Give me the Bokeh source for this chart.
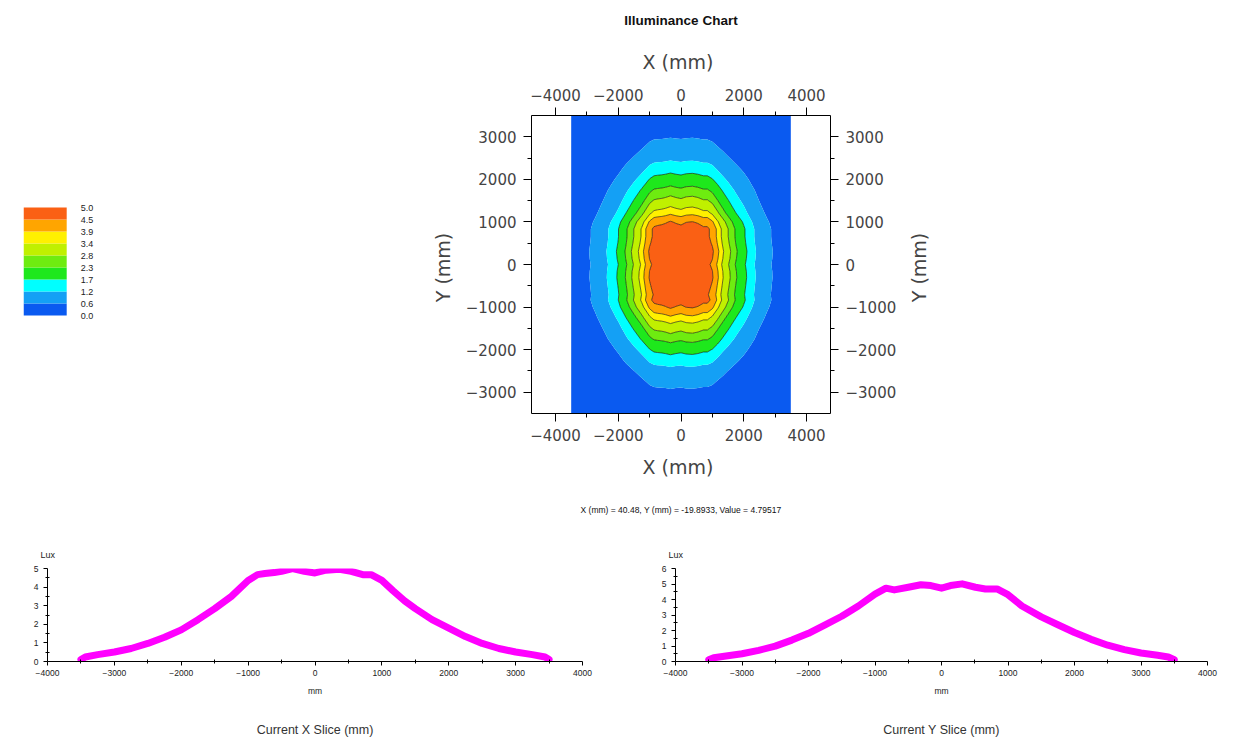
import math
import numpy as np
from bokeh.plotting import figure
from bokeh.layouts import column, row
from bokeh.models import Range1d, FixedTicker, LinearAxis, Title
from bokeh.embed import file_html
from bokeh.resources import INLINE
from bokeh.core.properties import value

# ---------------- data ----------------
# Current X slice (illuminance along X, mm -> lux)
slice_x_mm = [-3500, -3435, -3250, -3000, -2750, -2500, -2250, -2000, -1750, -1500,
              -1250, -1000, -860, -750, -610, -500, -335, -160, 0,
              165, 365, 540, 715, 840, 1000, 1165, 1340, 1500,
              1750, 2000, 2250, 2500, 2750, 3000, 3250, 3440, 3500]
slice_x_lux = [0.11, 0.24, 0.37, 0.51, 0.70, 0.97, 1.30, 1.70, 2.25, 2.84,
               3.50, 4.36, 4.67, 4.73, 4.78, 4.85, 5.00, 4.85, 4.76,
               4.91, 4.96, 4.85, 4.67, 4.67, 4.36, 3.81, 3.26, 2.84,
               2.25, 1.79, 1.34, 0.97, 0.70, 0.51, 0.37, 0.24, 0.11]

# Current Y slice (illuminance along Y, mm -> lux)
slice_y_mm = [-3500, -3425, -3240, -3000, -2750, -2500, -2250, -2000, -1750, -1500,
              -1250, -1000, -835, -710, -500, -310, -160, 0,
              135, 310, 510, 660, 835, 1000, 1210, 1500,
              1750, 2000, 2250, 2500, 2750, 3000, 3250, 3410, 3500]
slice_y_lux = [0.11, 0.24, 0.35, 0.50, 0.72, 0.99, 1.38, 1.82, 2.37, 2.92,
               3.58, 4.35, 4.73, 4.62, 4.79, 4.95, 4.90, 4.73,
               4.90, 5.01, 4.79, 4.68, 4.68, 4.31, 3.58, 2.88,
               2.37, 1.87, 1.43, 1.05, 0.77, 0.55, 0.40, 0.29, 0.11]

# contour levels / legend
levels = [0.0, 0.6, 1.2, 1.7, 2.3, 2.8, 3.4, 3.9, 4.5, 5.0]
level_labels = ["0.0", "0.6", "1.2", "1.7", "2.3", "2.8", "3.4", "3.9", "4.5", "5.0"]
band_colors = ["#0a5af0", "#14a0f5", "#00ffff", "#1ee81c", "#6eec10",
               "#c0f000", "#fff000", "#ffa500", "#fa6014"]
line_alphas = [0, 0, 0, 0.8, 0.8, 0.8, 0.8, 0.8, 0.8, 0]

title_text = "Illuminance Chart"
status_text = "X (mm) = 40.48, Y (mm) = -19.8933, Value = 4.79517"
x_label = "X  (mm)"
y_label = "Y  (mm)"

x_major = [-4000, -2000, 0, 2000, 4000]
x_minor = [-3000, -1000, 1000, 3000]
y_major = [-3000, -2000, -1000, 0, 1000, 2000, 3000]
y_minor = [-2500, -1500, -500, 500, 1500, 2500]

slice_ticks = [-4000, -3000, -2000, -1000, 0, 1000, 2000, 3000, 4000]
slice_minor = [-3500, -2500, -1500, -500, 500, 1500, 2500, 3500]

TXT = "#444444"

# ---------------- field from the two slices ----------------
fx = np.array(slice_x_lux)
fy = np.array(slice_y_lux)
fy0 = slice_y_lux[slice_y_mm.index(0)]
Z = np.outer(fy, fx) / fy0
XX, YY = np.meshgrid(np.array(slice_x_mm, dtype=float), np.array(slice_y_mm, dtype=float))
fill_levels = levels[:-1] + [max(levels[-1], float(Z.max()) + 0.01)]


def minus(v):
    return ("\u2212" + str(abs(v))) if v < 0 else str(v)


def caption_axis(text, standoff, size, color, style="normal"):
    """An axis with no ticks, used only to place a caption line."""
    ax = LinearAxis(ticker=FixedTicker(ticks=[], minor_ticks=[]), axis_label=text)
    ax.axis_line_color = None
    ax.major_tick_line_color = None
    ax.minor_tick_line_color = None
    ax.major_tick_out = 0
    ax.major_tick_in = 0
    ax.minor_tick_out = 0
    ax.minor_tick_in = 0
    ax.major_label_standoff = 0
    ax.axis_label_standoff = standoff
    ax.axis_label_text_font = "Liberation Sans"
    ax.axis_label_text_font_size = size
    ax.axis_label_text_font_style = style
    ax.axis_label_text_color = color
    return ax


TOP_B, FRAME_H, BOT_B = 115, 298, 120
ROW1_H = TOP_B + FRAME_H + BOT_B

# ---------------- legend figure ----------------
band_px = 12.0
top_val = 9 + (207 - TOP_B) / band_px
bot_val = top_val - FRAME_H / band_px
pl = figure(width=428, height=ROW1_H, x_range=Range1d(0, 2.5), y_range=Range1d(bot_val, top_val),
            output_backend="svg", toolbar_location=None,
            x_axis_location=None, y_axis_location=None,
            min_border_left=23, min_border_right=428 - 23 - 108,
            min_border_top=TOP_B, min_border_bottom=BOT_B)
pl.grid.visible = False
pl.outline_line_color = None
idx = list(range(len(levels)))
pl.quad(left=0, right=1, bottom=idx[:-1], top=idx[1:], fill_color=band_colors, line_color=None)
pl.text(x=[1] * len(levels), y=idx, text=level_labels, x_offset=14,
        text_baseline="middle", text_align="left", text_font_size="9px",
        text_font=value("Liberation Sans"), text_color="#222222")

# ---------------- contour figure ----------------
pc = figure(width=472, height=ROW1_H, x_range=Range1d(-4765, 4765), y_range=Range1d(-3500, 3500),
            output_backend="svg", toolbar_location=None,
            x_axis_location=None, y_axis_location=None,
            min_border_left=103, min_border_right=70,
            min_border_top=TOP_B, min_border_bottom=BOT_B)
pc.grid.visible = False
pc.outline_line_color = None

pc.contour(x=XX, y=YY, z=Z, levels=fill_levels, fill_color=band_colors,
           line_color="black", line_alpha=line_alphas, line_width=0.7)


def style_axis(ax):
    ax.axis_line_color = "black"
    ax.major_tick_line_color = "black"
    ax.minor_tick_line_color = "black"
    ax.major_tick_out = 8
    ax.major_tick_in = 0
    ax.minor_tick_out = 4
    ax.minor_tick_in = 0
    ax.major_label_text_font = "DejaVu Sans"
    ax.major_label_text_font_size = "15px"
    ax.major_label_text_color = TXT
    ax.major_label_standoff = 7
    ax.axis_label_text_font = "DejaVu Sans"
    ax.axis_label_text_font_size = "19px"
    ax.axis_label_text_font_style = "normal"
    ax.axis_label_text_color = TXT
    ax.axis_label_standoff = 12


for loc in ["below", "above"]:
    ax = LinearAxis(ticker=FixedTicker(ticks=x_major, minor_ticks=x_minor),
                    major_label_overrides={v: minus(v) for v in x_major},
                    axis_label=x_label)
    style_axis(ax)
    if loc == "above":
        ax.axis_label_standoff = 13
    pc.add_layout(ax, loc)

for loc in ["left", "right"]:
    ax = LinearAxis(ticker=FixedTicker(ticks=y_major, minor_ticks=y_minor),
                    major_label_overrides={v: minus(v) for v in y_major},
                    axis_label=y_label if loc == "left" else None)
    style_axis(ax)
    ax.axis_label_standoff = 9
    pc.add_layout(ax, loc)

# chart title (outermost line above) and status line (outermost line below)
pc.add_layout(caption_axis(title_text, 20, "13.5px", "#111111", "bold"), "above")
pc.add_layout(caption_axis(status_text, 24, "8.5px", "#111111"), "below")

# ---------------- right-hand Y label (reads bottom-to-top) ----------------
pr = figure(width=36, height=ROW1_H, x_range=Range1d(-1, 1), y_range=Range1d(-1, 1),
            output_backend="svg", toolbar_location=None,
            x_axis_location=None, y_axis_location=None,
            min_border_left=0, min_border_right=0,
            min_border_top=TOP_B, min_border_bottom=BOT_B)
pr.grid.visible = False
pr.outline_line_color = None
pr.text(x=[0], y=[0], text=[y_label], angle=math.pi / 2, text_align="center",
        text_baseline="middle", text_font=value("DejaVu Sans"), text_font_size="19px",
        text_color=TXT)


# ---------------- slice figures ----------------
def slice_fig(width, bl, br, ymax, xs, ys, caption):
    p = figure(width=width, height=206, x_range=Range1d(-4000, 4000), y_range=Range1d(0, ymax),
               output_backend="svg", toolbar_location=None,
               min_border_left=bl, min_border_right=br, min_border_top=35, min_border_bottom=78)
    p.grid.visible = False
    p.outline_line_color = None
    p.line(xs, ys, line_color="#ff00ff", line_width=7, line_join="round", line_cap="round")
    p.xaxis.ticker = FixedTicker(ticks=slice_ticks, minor_ticks=slice_minor)
    yt = list(range(0, ymax + 1))
    p.yaxis.ticker = FixedTicker(ticks=yt, minor_ticks=[v + 0.5 for v in yt[:-1]])
    for ax in [p.xaxis[0], p.yaxis[0]]:
        ax.axis_line_color = "black"
        ax.major_tick_line_color = "black"
        ax.minor_tick_line_color = "black"
        ax.major_tick_out = 4
        ax.major_tick_in = 0
        ax.minor_tick_out = 2
        ax.minor_tick_in = 2
        ax.major_label_text_font = "Liberation Sans"
        ax.major_label_text_font_size = "8.5px"
        ax.major_label_text_color = "#222222"
        ax.major_label_standoff = 5
    p.xaxis.major_label_standoff = 4
    p.xaxis.axis_label = "mm"
    p.xaxis.axis_label_text_font = "Liberation Sans"
    p.xaxis.axis_label_text_font_size = "8.5px"
    p.xaxis.axis_label_text_font_style = "normal"
    p.xaxis.axis_label_text_color = "#222222"
    p.xaxis.axis_label_standoff = 7
    p.add_layout(Title(text="Lux", align="left", offset=-7, text_font="Liberation Sans",
                       text_font_size="9px", text_font_style="normal", text_color="#222222",
                       standoff=18), "above")
    p.add_layout(caption_axis(caption, 24, "12.5px", "#333333"), "below")
    return p


ps1 = slice_fig(617, 47, 35, 5, slice_x_mm, slice_x_lux, "Current X Slice (mm)")
ps2 = slice_fig(620, 58, 30, 6, slice_y_mm, slice_y_lux, "Current Y Slice (mm)")

layout = column(row(pl, pc, pr), row(ps1, ps2))
open("out.html", "w").write(file_html(layout, INLINE))
